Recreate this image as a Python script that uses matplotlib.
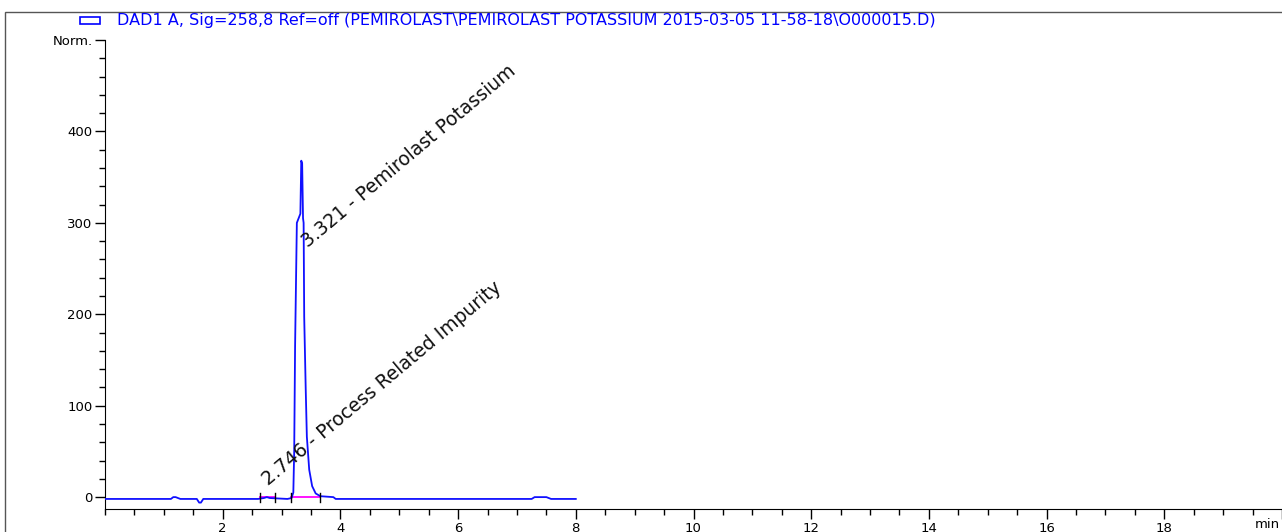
import numpy as np
import matplotlib.pyplot as plt
from matplotlib.patches import Rectangle
from matplotlib.ticker import MultipleLocator, FixedLocator


###  Chromatogram data

t_min = [0.0, 1.12, 1.16, 1.20, 1.24, 1.28, 1.56, 1.60, 1.63, 1.67, 2.60, 2.70, 2.75, 2.80, 3.10,
         3.17, 3.20, 3.215, 3.23, 3.26, 3.32, 3.335, 3.35, 3.365, 3.375, 3.385, 3.41, 3.43, 3.47,
         3.52, 3.58, 3.66, 3.88, 3.92, 7.25, 7.30, 7.50, 7.58, 8.0]
signal = [-2, -2, 0, 0, -1, -2, -2, -6, -6, -2, -2, -1, 0, -1, -2,
          -1, 5, 50, 165, 300, 310, 368, 365, 305, 300, 197, 120, 66, 30,
          12, 4, 1, 0, -2, -2, 0, 0, -2, -2]

# integration baselines (start, end) and their marks
base_segs = [(2.64, 2.89), (3.16, 3.66)]
base_marks = [2.64, 2.89, 3.16, 3.66]

peak_labels = ['3.321 - Pemirolast Potassium', '2.746 - Process Related Impurity']
label_pos = [(3.45, 272), (2.78, 12)]

x_ticks = [2, 4, 6, 8, 10, 12, 14, 16, 18, 20]
x_ticklabels = ['2', '4', '6', '8', '10', '12', '14', '16', '18', '']
x_unit = 'min'
y_ticks = [0, 100, 200, 300, 400, 500]
y_ticklabels = ['0', '100', '200', '300', '400', 'Norm.']

title_str = 'DAD1 A, Sig=258,8 Ref=off (PEMIROLAST\\PEMIROLAST POTASSIUM 2015-03-05 11-58-18\\O000015.D)'


###  Plot

plt.rcParams['font.family'] = ['DejaVu Sans']

fig = plt.figure(figsize=(12.82, 5.32), dpi=100)
ax = fig.add_axes([105/1282, 23/532, 1 - 105/1282, 469/532])

ax.plot(t_min, signal, color='#1010ff', lw=1.3, zorder=3)
for s, e in base_segs:
    ax.plot([s, e], [0, 0], color='#ff00ff', lw=1.3, zorder=2)
for m in base_marks:
    ax.plot([m, m], [-5, 5], color='black', lw=1, zorder=4)

for txt, (x0, y0) in zip(peak_labels, label_pos):
    ax.text(x0, y0, txt, rotation=40, rotation_mode='anchor', ha='left', va='baseline',
            fontsize=13.5, color='#111111', zorder=5)

ax.set_xlim(0, 20)
ax.set_ylim(-13, 500)
ax.xaxis.set_major_locator(FixedLocator(x_ticks))
ax.set_xticklabels(x_ticklabels)
ax.xaxis.set_minor_locator(MultipleLocator(0.5))
ax.yaxis.set_major_locator(FixedLocator(y_ticks))
ax.set_yticklabels(y_ticklabels)
ax.yaxis.set_minor_locator(MultipleLocator(20))

ax.tick_params(which='major', direction='out', length=7, width=1, labelsize=9.5, pad=2)
ax.tick_params(which='minor', direction='out', length=4, width=1)
ax.spines['top'].set_visible(False)
ax.spines['right'].set_visible(False)

# unit label at the right end of the time axis
fig.text(1280/1282, 0.5/532, x_unit, fontsize=9.5, ha='right', va='bottom')

# outer frame and signal legend
fig.patches.append(Rectangle((5/1282, -0.05), 1.1, 1 - 12/532 + 0.05, transform=fig.transFigure,
                             fill=False, edgecolor='#555555', lw=1))
fig.patches.append(Rectangle((80/1282, 1 - 24/532), 20/1282, 7/532, transform=fig.transFigure,
                             fill=False, edgecolor='#0000ff', lw=1.2))
fig.text(117/1282, 1 - 20/532, title_str, color='#0000ff', fontsize=11.5, va='center', ha='left')

plt.savefig('out.png', dpi=100)
plt.close()
